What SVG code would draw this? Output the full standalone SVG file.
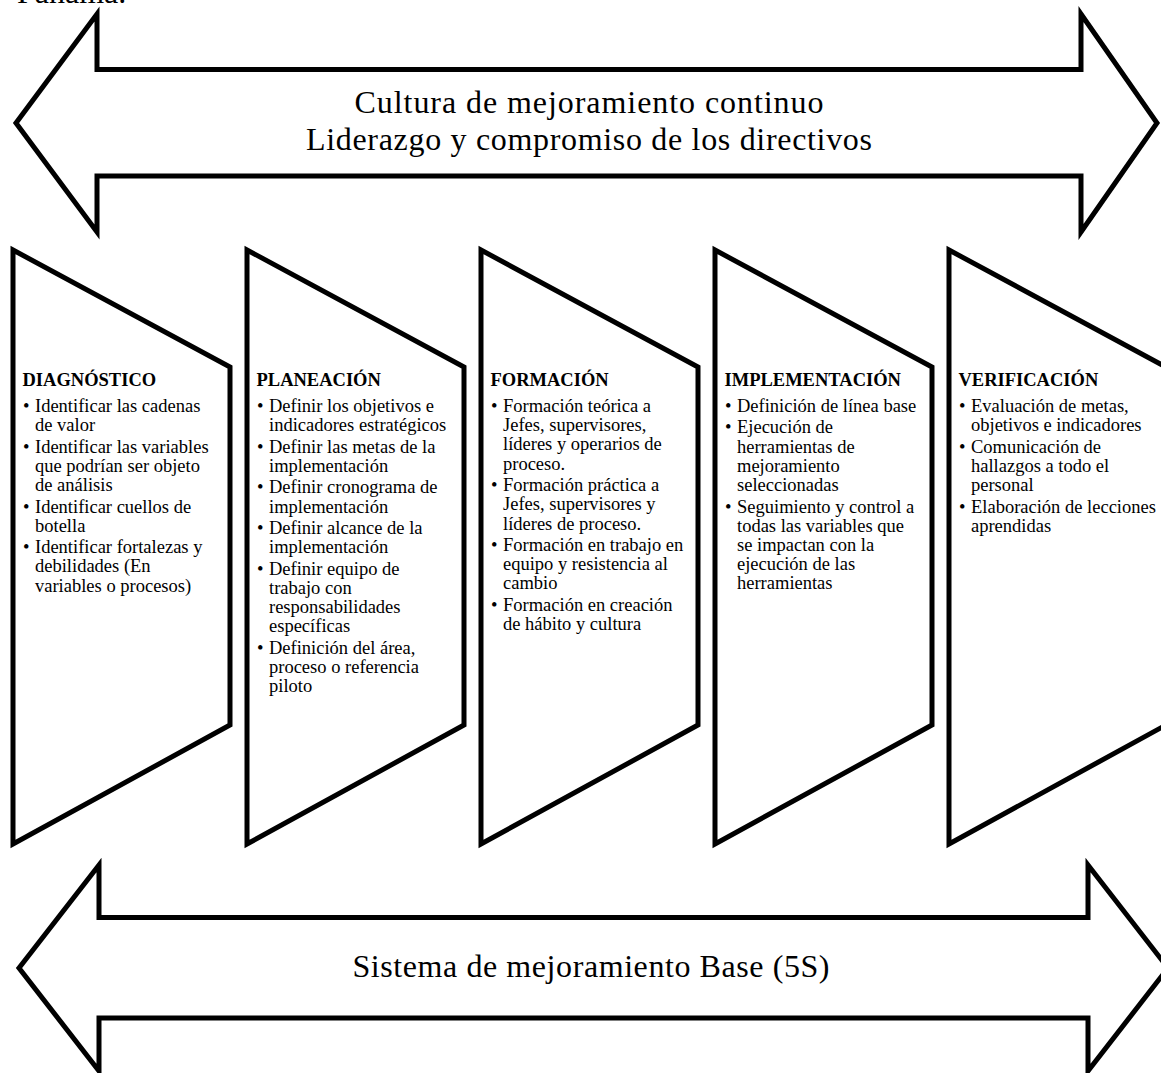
<svg xmlns="http://www.w3.org/2000/svg" width="1161" height="1073" viewBox="0 0 1161 1073">
<style>
.shape{fill:#fff;stroke:#000;stroke-width:5;stroke-linejoin:miter}
.big{font-family:"Liberation Serif","Times New Roman",serif;font-size:32px;fill:#000}
.ttl{font-family:"Liberation Serif","Times New Roman",serif;font-size:18.5px;font-weight:bold;fill:#000}
.txt{font-family:"Liberation Serif","Times New Roman",serif;font-size:18.5px;fill:#000}
</style>
<rect width="1161" height="1073" fill="#fff"/>
<text class="big" x="17" y="3" font-size="30">Panamá.</text>
<g id="connectors">
<g id="arrow-top">
<polygon class="shape" points="16,123 97,14 97,69.5 1081,69.5 1081,14 1157,123 1081,232 1081,176 97,176 97,232"/>
<text class="big" x="589" y="113" text-anchor="middle" textLength="469">Cultura de mejoramiento continuo</text>
<text class="big" x="589" y="150" text-anchor="middle" textLength="566">Liderazgo y compromiso de los directivos</text>
</g>
<g id="arrow-bottom">
<polygon class="shape" points="19,968 99,865 99,917.5 1088,917.5 1088,865 1168,968 1088,1071 1088,1018 99,1018 99,1071"/>
<text class="big" x="591" y="977" text-anchor="middle" textLength="477">Sistema de mejoramiento Base (5S)</text>
</g>
</g>
<g id="node-diagnostico">
<polygon class="shape" points="13,250 230,367 230,725 13,844"/>
<text class="ttl" x="22.5" y="386">DIAGNÓSTICO</text>
<text class="txt">
<tspan x="23" y="412">•</tspan><tspan x="35" y="412">Identificar las cadenas</tspan>
<tspan x="35" y="431">de valor</tspan>
<tspan x="23" y="453">•</tspan><tspan x="35" y="453">Identificar las variables</tspan>
<tspan x="35" y="472">que podrían ser objeto</tspan>
<tspan x="35" y="491">de análisis</tspan>
<tspan x="23" y="513">•</tspan><tspan x="35" y="513">Identificar cuellos de</tspan>
<tspan x="35" y="532">botella</tspan>
<tspan x="23" y="553">•</tspan><tspan x="35" y="553">Identificar fortalezas y</tspan>
<tspan x="35" y="572">debilidades (En</tspan>
<tspan x="35" y="592">variables o procesos)</tspan>
</text>
</g>
<g id="node-planeacion">
<polygon class="shape" points="247,250 464,367 464,725 247,844"/>
<text class="ttl" x="256.5" y="386">PLANEACIÓN</text>
<text class="txt">
<tspan x="257" y="412">•</tspan><tspan x="269" y="412">Definir los objetivos e</tspan>
<tspan x="269" y="431">indicadores estratégicos</tspan>
<tspan x="257" y="453">•</tspan><tspan x="269" y="453">Definir las metas de la</tspan>
<tspan x="269" y="472">implementación</tspan>
<tspan x="257" y="493">•</tspan><tspan x="269" y="493">Definir cronograma de</tspan>
<tspan x="269" y="513">implementación</tspan>
<tspan x="257" y="534">•</tspan><tspan x="269" y="534">Definir alcance de la</tspan>
<tspan x="269" y="553">implementación</tspan>
<tspan x="257" y="575">•</tspan><tspan x="269" y="575">Definir equipo de</tspan>
<tspan x="269" y="594">trabajo con</tspan>
<tspan x="269" y="613">responsabilidades</tspan>
<tspan x="269" y="632">específicas</tspan>
<tspan x="257" y="654">•</tspan><tspan x="269" y="654">Definición del área,</tspan>
<tspan x="269" y="673">proceso o referencia</tspan>
<tspan x="269" y="692">piloto</tspan>
</text>
</g>
<g id="node-formacion">
<polygon class="shape" points="481,250 698,367 698,725 481,844"/>
<text class="ttl" x="490.5" y="386">FORMACIÓN</text>
<text class="txt">
<tspan x="491" y="412">•</tspan><tspan x="503" y="412">Formación teórica a</tspan>
<tspan x="503" y="431">Jefes, supervisores,</tspan>
<tspan x="503" y="450">líderes y operarios de</tspan>
<tspan x="503" y="470">proceso.</tspan>
<tspan x="491" y="491">•</tspan><tspan x="503" y="491">Formación práctica a</tspan>
<tspan x="503" y="510">Jefes, supervisores y</tspan>
<tspan x="503" y="530">líderes de proceso.</tspan>
<tspan x="491" y="551">•</tspan><tspan x="503" y="551">Formación en trabajo en</tspan>
<tspan x="503" y="570">equipo y resistencia al</tspan>
<tspan x="503" y="589">cambio</tspan>
<tspan x="491" y="611">•</tspan><tspan x="503" y="611">Formación en creación</tspan>
<tspan x="503" y="630">de hábito y cultura</tspan>
</text>
</g>
<g id="node-implementacion">
<polygon class="shape" points="715,250 932,367 932,725 715,844"/>
<text class="ttl" x="724.5" y="386">IMPLEMENTACIÓN</text>
<text class="txt">
<tspan x="725" y="412">•</tspan><tspan x="737" y="412">Definición de línea base</tspan>
<tspan x="725" y="433">•</tspan><tspan x="737" y="433">Ejecución de</tspan>
<tspan x="737" y="453">herramientas de</tspan>
<tspan x="737" y="472">mejoramiento</tspan>
<tspan x="737" y="491">seleccionadas</tspan>
<tspan x="725" y="513">•</tspan><tspan x="737" y="513">Seguimiento y control a</tspan>
<tspan x="737" y="532">todas las variables que</tspan>
<tspan x="737" y="551">se impactan con la</tspan>
<tspan x="737" y="570">ejecución de las</tspan>
<tspan x="737" y="589">herramientas</tspan>
</text>
</g>
<g id="node-verificacion">
<polygon class="shape" points="949,250 1166,367 1166,725 949,844"/>
<text class="ttl" x="958.5" y="386">VERIFICACIÓN</text>
<text class="txt">
<tspan x="959" y="412">•</tspan><tspan x="971" y="412">Evaluación de metas,</tspan>
<tspan x="971" y="431">objetivos e indicadores</tspan>
<tspan x="959" y="453">•</tspan><tspan x="971" y="453">Comunicación de</tspan>
<tspan x="971" y="472">hallazgos a todo el</tspan>
<tspan x="971" y="491">personal</tspan>
<tspan x="959" y="513">•</tspan><tspan x="971" y="513">Elaboración de lecciones</tspan>
<tspan x="971" y="532">aprendidas</tspan>
</text>
</g>
</svg>
